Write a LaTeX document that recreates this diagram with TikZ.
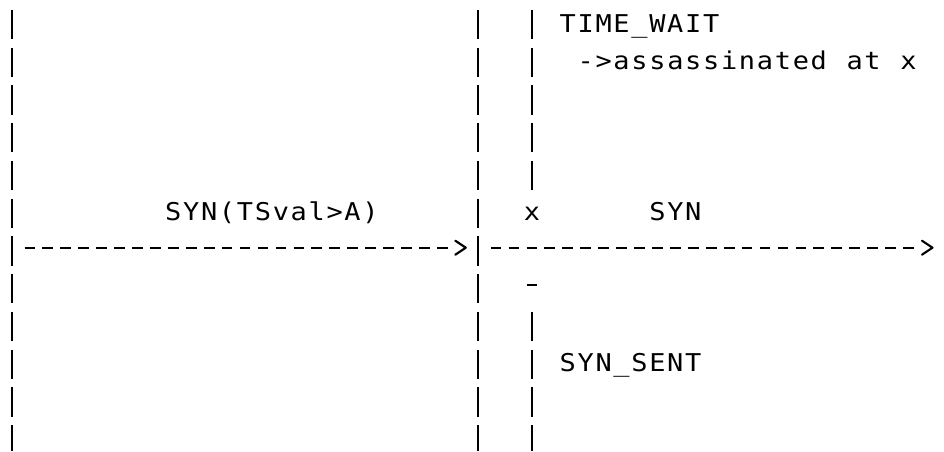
\documentclass[tikz,border=0pt]{standalone}
\usepackage{fontspec}
\newfontfamily\diagfont{DejaVu Sans Mono}[FakeStretch=1.1]
\usetikzlibrary{calc}

% every character sits in a cell of fixed width
\newlength\cellw
\setlength\cellw{17.93pt}
\ExplSyntaxOn
\NewDocumentCommand\cells{m}
  { \str_map_inline:nn {#1} { \makebox[\cellw][c]{##1} } }
\ExplSyntaxOff

\tikzset{
  lifeline/.style={line width=2.3pt, dash pattern=on 29.3pt off 8.43pt},
  msgline/.style={line width=2.1pt, dash pattern=on 10.7pt off 7.23pt},
  msghead/.style={line width=2.1pt, line join=round, line cap=round},
  tick/.style={line width=2.1pt},
  lbl/.style={anchor=base west, inner sep=0pt, outer sep=0pt,
              font=\diagfont\fontsize{24.5pt}{29pt}\selectfont},
}

\begin{document}
\begin{tikzpicture}[x=1pt,y=1pt]
\useasboundingbox (0,0) rectangle (944,-451);

% lifelines
\coordinate (aTop) at (11.96,-10);
\coordinate (aBot) at (11.96,-451);
\coordinate (bTop) at (478.14,-10);
\coordinate (bBot) at (478.14,-451);
\coordinate (cTop) at (531.93,-10);
\coordinate (cCut) at (531.93,-190.2);
\coordinate (cRes) at (531.93,-311.84);
\coordinate (cBot) at (531.93,-451);
\draw[lifeline] (aTop) -- (aBot);
\draw[lifeline] (bTop) -- (bBot);
\draw[lifeline] (cTop) -- (cCut);
\draw[lifeline] (cRes) -- (cBot);

% first SYN
\coordinate (m1s) at (24.55,-247.7);
\coordinate (m1e) at (447.6,-247.7);
\coordinate (m1tip) at (465.8,-247.7);
\draw[msgline] (m1s) -- (m1e);
\draw[msghead] ($(m1tip)+(-10.5,7)$) -- (m1tip) -- ($(m1tip)+(-10.5,-7)$);

% second SYN
\coordinate (m2s) at (490.7,-247.7);
\coordinate (m2e) at (913.8,-247.7);
\coordinate (m2tip) at (932.5,-247.7);
\draw[msgline] (m2s) -- (m2e);
\draw[msghead] ($(m2tip)+(-10.5,7)$) -- (m2tip) -- ($(m2tip)+(-10.5,-7)$);

% short mark below the x
\coordinate (t1) at (526.6,-285.2);
\coordinate (t2) at (537.3,-285.2);
\draw[tick] (t1) -- (t2);

% labels
\node[lbl] (tw)   at (558.83,-32.2)   {\cells{TIME_WAIT}};
\node[lbl] (as)   at (576.76,-69.93)  {\cells{->assassinated at x}};
\node[lbl] (syn1) at (164.37,-220.85) {\cells{SYN(TSval>A)}};
\node[lbl] (kill) at (522.97,-220.85) {\cells{x}};
\node[lbl] (syn2) at (648.48,-220.85) {\cells{SYN}};
\node[lbl] (ss)   at (558.83,-371.77) {\cells{SYN_SENT}};
\end{tikzpicture}
\end{document}
